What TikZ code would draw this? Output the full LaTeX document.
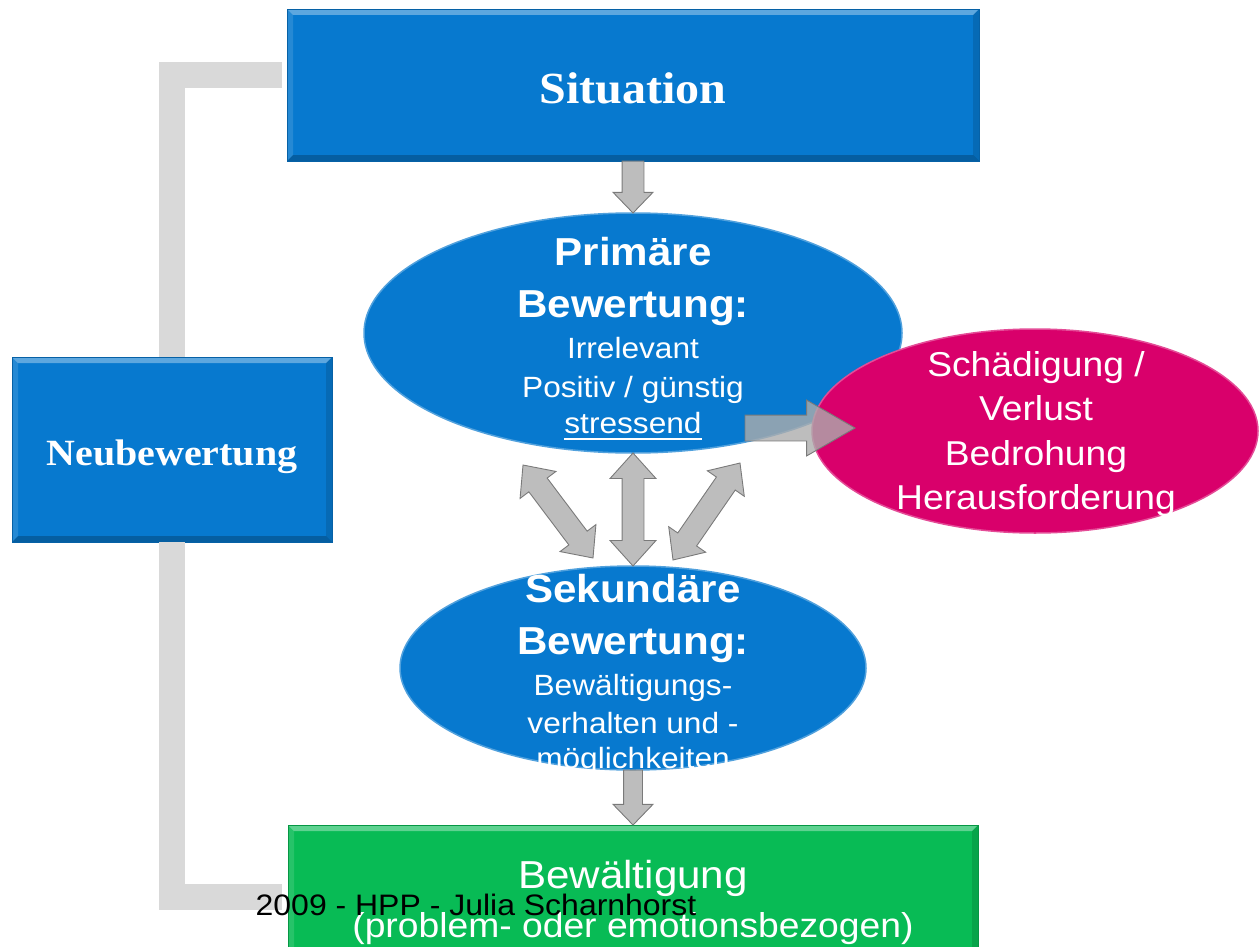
\documentclass[tikz,border=0pt]{standalone}
\usepackage{fontspec}
\setmainfont{Liberation Sans}
\newfontfamily\sfx[FakeStretch=1.08]{Liberation Sans}
\newfontfamily\rmx[FakeStretch=1.08]{Liberation Serif}
\usetikzlibrary{calc,shapes.geometric,shapes.arrows}
\definecolor{cblue}{HTML}{0779CF}
\definecolor{cblueL}{HTML}{45B0F2}
\definecolor{cgreen}{HTML}{08BB55}
\definecolor{cpink}{HTML}{D9006B}
\definecolor{cband}{HTML}{D9D9D9}
\definecolor{carrow}{HTML}{ADADAD}
\definecolor{carrowD}{HTML}{7A7A7A}
\newcommand\fsz[1]{\fontsize{#1}{#1}\selectfont}
\newcommand\blockarrow[5]{%
  \path let \p1=(#1), \p2=(#2), \n1={veclen(\x2-\x1,\y2-\y1)} in
    (#1) -- (#2) node[pos=0, anchor=tail, sloped, allow upside down, sarrow,
      minimum height=\n1, inner xsep=0pt, inner ysep=#3/2,
      single arrow head extend=(#4-#3)/2, single arrow tip angle=#5] {};}
\newcommand\dblarrow[5]{%
  \path let \p1=(#1), \p2=(#2), \n1={veclen(\x2-\x1,\y2-\y1)} in
    (#1) -- (#2) node[midway, sloped, allow upside down, darrow,
      minimum height=\n1, inner xsep=0pt, inner ysep=#3/2,
      double arrow head extend=(#4-#3)/2, double arrow tip angle=#5] {};}
\tikzset{
  bevel/.style={path picture={
    \fill[white,opacity=.35] (path picture bounding box.north west) -- (path picture bounding box.north east)
      -- ([xshift=-6pt,yshift=-6pt]path picture bounding box.north east) -- ([xshift=6pt,yshift=-6pt]path picture bounding box.north west) -- cycle;
    \fill[white,opacity=.12] (path picture bounding box.north west) -- ([xshift=6pt,yshift=-6pt]path picture bounding box.north west)
      -- ([xshift=6pt,yshift=6pt]path picture bounding box.south west) -- (path picture bounding box.south west) -- cycle;
    \fill[black,opacity=.22] (path picture bounding box.south west) -- (path picture bounding box.south east)
      -- ([xshift=-6pt,yshift=6pt]path picture bounding box.south east) -- ([xshift=6pt,yshift=6pt]path picture bounding box.south west) -- cycle;
    \fill[black,opacity=.12] (path picture bounding box.north east) -- ([xshift=-6pt,yshift=-6pt]path picture bounding box.north east)
      -- ([xshift=-6pt,yshift=6pt]path picture bounding box.south east) -- (path picture bounding box.south east) -- cycle;
  }},
  rim/.style={path picture={
    \draw[white,opacity=.25,line width=5pt] (path picture bounding box.center) ellipse [x radius=#1];
  }},
  boxnode/.style={rectangle, inner sep=0pt, outer sep=0pt, draw=#1!80!black, line width=0.8pt, fill=#1, bevel},
  ell/.style={ellipse, inner sep=0pt, outer sep=0pt, fill=#1, draw=#1!70!white, line width=1.5pt},
  band/.style={draw=cband, line width=26pt, line cap=butt, line join=miter},
  sarrow/.style={single arrow, fill=carrow, draw=carrowD, line width=0.9pt, fill opacity=.8, outer sep=0pt, minimum width=1pt},
  darrow/.style={double arrow, fill=carrow, draw=carrowD, line width=0.9pt, fill opacity=.8, outer sep=0pt, minimum width=1pt},
  txt/.style={anchor=base, inner sep=0pt, text=white},
  bt/.style={txt, font=\sfx\bfseries\fsz{39}},
  rt/.style={txt, font=\sfx\fsz{29.3}},
  pt/.style={txt, font=\sfx\fsz{34.5}},
}
\begin{document}
\begin{tikzpicture}[x=1pt,y=-1pt]
\useasboundingbox (0,0) rectangle (1260,947);
\clip (0,0) rectangle (1260,947);

% boxes
\node[boxnode=cblue, minimum width=692, minimum height=152] (sit) at (633,85) {};
\node[boxnode=cblue, minimum width=320, minimum height=185] (neu) at (172,449.5) {};
\node[boxnode=cgreen, minimum width=690, minimum height=136] (bew) at (633,893) {};

% grey elbow connectors
\draw[band] ($(sit.west)+(-5,-9.5)$) -| (neu.north);
\draw[band] (neu.south) |- ($(bew.west)+(-6,4)$);

% ellipses
\node[ell=cblue, minimum width=538, minimum height=240] (prim) at (633,333) {};
\node[ell=cblue, minimum width=466, minimum height=204] (sek) at (633,668) {};
\node[ell=cpink, minimum width=446, minimum height=204] (pink) at (1035,431) {};

% arrow end points
\coordinate (a2s) at ($(prim.center)+(112,95)$);
\coordinate (a2e) at ($(pink.center)+(-180,-3)$);
\coordinate (d1a) at ($(prim.center)+(-110,132)$);
\coordinate (d1b) at ($(sek.center)+(-40,-110)$);
\coordinate (d3a) at ($(prim.center)+(107,130)$);
\coordinate (d3b) at ($(sek.center)+(40,-108)$);

% arrows
\blockarrow{sit.south}{prim.north}{21}{39}{88}
\blockarrow{a2s}{a2e}{25}{55}{60}
\blockarrow{sek.south}{bew.north}{18}{39}{88}
\dblarrow{d1a}{d1b}{22}{44}{84}
\dblarrow{prim.south}{sek.north}{21}{45}{84}
\dblarrow{d3a}{d3b}{22}{44}{84}

% texts
\node[txt, font=\rmx\bfseries\fsz{44.5}] (sitT) at (633,104) {Situation};
\node[txt, font=\rmx\bfseries\fsz{37}] (neuT) at (172,465) {Neubewertung};

\node[bt] (p1) at (633,265) {Primäre};
\node[bt] (p2) at (633,317) {Bewertung:};
\node[rt] (p3) at (633,358) {Irrelevant};
\node[rt] (p4) at (633,397) {Positiv / günstig};
\node[rt] (p5) at (633,433) {stressend};
\draw[white, line width=2pt] ([yshift=-6pt]p5.base west) -- ([yshift=-6pt]p5.base east);

\node[bt] (s1) at (633,602) {Sekundäre};
\node[bt] (s2) at (633,654) {Bewertung:};
\node[rt] (s3) at (633,695) {Bewältigungs-};
\node[rt] (s4) at (633,733) {verhalten und -};
\node[rt] (s5) at (633,768) {möglichkeiten};

\node[pt] (k1) at (1036,376) {Schädigung /};
\node[pt] (k2) at (1036,420) {Verlust};
\node[pt] (k3) at (1036,465) {Bedrohung};
\node[pt] (k4) at (1036,509) {Herausforderung};

\node[txt, font=\sfx\fsz{39}] (b1) at (633,888) {Bewältigung};
\node[txt, font=\sfx\fsz{34.5}] (b2) at (633,937) {(problem- oder emotionsbezogen)};

\node[anchor=base, inner sep=0pt, text=black, font=\sfx\fsz{29.6}] (foot) at (476,915) {2009 - HPP - Julia Scharnhorst};
\end{tikzpicture}
\end{document}
